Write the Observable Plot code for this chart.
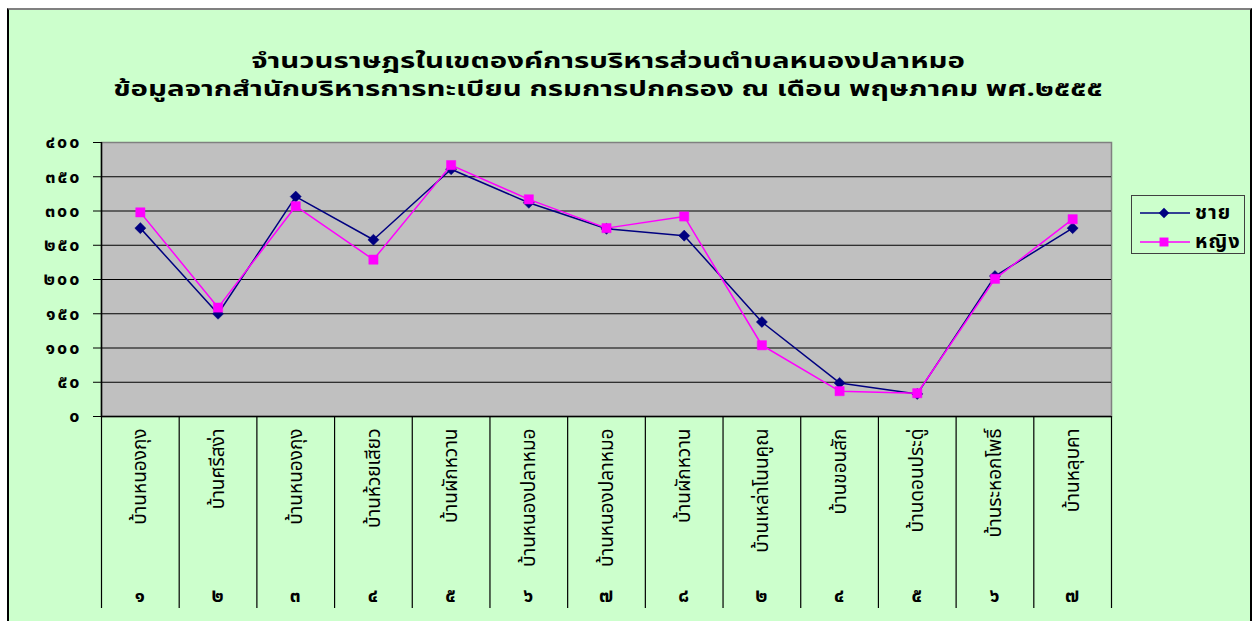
<!DOCTYPE html>
<html><head><meta charset="utf-8">
<script src="https://cdn.jsdelivr.net/npm/d3@7"></script>
<script src="https://cdn.jsdelivr.net/npm/@observablehq/plot@0.6"></script>
<style>
body{margin:0;background:#fff;width:1257px;height:621px;overflow:hidden;position:relative;font-family:Tahoma,"Noto Sans Thai","Noto Sans","DejaVu Sans",sans-serif}
#box{position:absolute;left:7px;top:8px;width:1245px;height:640px;box-sizing:border-box;background:#CCFFCC;border:2px solid #000;border-top-color:#808080}
.tline{position:absolute;left:0;width:1216px;height:28px;text-align:center;font-weight:bold;font-size:21px;line-height:28px;color:#000;transform:scaleX(1.4);transform-origin:608px 0;white-space:nowrap}
#chart{position:absolute;left:0;top:110px}
#legend{position:absolute;left:1131px;top:195px;width:114px;height:59px;box-sizing:border-box;border:1px solid #404040;background:#CCFFCC}
.entry{position:absolute;left:8px;height:22px;display:flex;align-items:center;font-weight:bold;font-size:20px;letter-spacing:1px;color:#000}
.entry svg{margin-right:5px}
g[aria-label="y-axis tick label"] text{letter-spacing:2px}
g.moo text{letter-spacing:1px}
</style></head>
<body>
<div id="box"></div>
<div class="tline" style="top:48px">จำนวนราษฎรในเขตองค์การบริหารส่วนตำบลหนองปลาหมอ</div>
<div class="tline" style="top:76px">ข้อมูลจากสำนักบริหารการทะเบียน กรมการปกครอง ณ เดือน พฤษภาคม พศ.๒๕๕๕</div>
<div id="chart"></div>
<div id="legend"></div>
<script>
const villages = ["บ้านหนองกุง","บ้านศรีสง่า","บ้านหนองกุง","บ้านห้วยเสียว","บ้านผักหวาน","บ้านหนองปลาหมอ","บ้านหนองปลาหมอ","บ้านผักหวาน","บ้านเหล่าโนนคูณ","บ้านขอนสัก","บ้านดอนประดู่","บ้านระหอกโพธิ์","บ้านหลุบคา"];
const moo = ["๑","๒","๓","๔","๕","๖","๗","๘","๒","๔","๕","๖","๗"];
const male = [275,150,321,258,361,312,274,264,138,49,33,205,275];
const female = [298,159,307,229,367,317,275,292,104,37,34,201,288];
const yTicks = [0,50,100,150,200,250,300,350,400];
const yTickLabels = ["๐","๕๐","๑๐๐","๑๕๐","๒๐๐","๒๕๐","๓๐๐","๓๕๐","๔๐๐"];
const seriesNames = ["ชาย","หญิง"];
const colors = ["#000080","#FF00FF"];

const rows = villages.map((v,i)=>({pos:i+0.5, name:v, male:male[i], female:female[i]}));
const centers = rows.map(d=>d.pos);
const bounds = d3.range(0, villages.length+1);
const font = 'Tahoma,"Noto Sans Thai","Noto Sans","DejaVu Sans",sans-serif';

const chart = Plot.plot({
  width:1257, height:511,
  marginLeft:101, marginRight:146, marginTop:32, marginBottom:205,
  style:{background:"transparent", fontFamily:font, color:"#000", overflow:"visible"},
  x:{domain:[0,villages.length]},
  y:{domain:[0,400]},
  marks:[
    Plot.frame({fill:"#C0C0C0", stroke:"#808080", strokeWidth:1.5}),
    Plot.ruleY(yTicks.filter(d=>d>0&&d<400), {stroke:"#000", strokeWidth:1.2}),
    Plot.ruleX([0], {stroke:"#000", strokeWidth:1.5}),
    Plot.ruleY([0], {stroke:"#000", strokeWidth:1.5}),
    Plot.axisY({ticks:yTicks, tickSize:8, tickPadding:12, stroke:"#000", tickFormat:d=>yTickLabels[yTicks.indexOf(d)], fontSize:18, fontWeight:"bold", label:null}),
    Plot.axisX({ticks:bounds, tickSize:192, tickFormat:()=>"", stroke:"#000", strokeWidth:1.2, label:null}),
    Plot.axisX({ticks:centers, tickSize:0, tickPadding:12, tickRotate:-90, textAnchor:"end", tickFormat:d=>villages[Math.floor(d)], fontSize:19, label:null}),
    Plot.axisX({ticks:centers, tickSize:0, tickPadding:172, tickFormat:d=>moo[Math.floor(d)], fontSize:19, fontWeight:"bold", label:null, className:"moo"}),
    Plot.line(rows, {x:"pos", y:"male", stroke:colors[0], strokeWidth:1.5}),
    Plot.dot(rows, {x:"pos", y:"male", symbol:"diamond2", r:5, fill:colors[0], stroke:colors[0], strokeWidth:0.5}),
    Plot.line(rows, {x:"pos", y:"female", stroke:colors[1], strokeWidth:1.5}),
    Plot.dot(rows, {x:"pos", y:"female", symbol:"square", r:5.2, fill:colors[1], stroke:colors[1], strokeWidth:0.5})
  ]
});
document.getElementById("chart").appendChild(chart);

const legend = document.getElementById("legend");
seriesNames.forEach((n,k)=>{
  const e = document.createElement("div");
  e.className = "entry";
  e.style.top = (6 + k*29) + "px";
  const sym = d3.symbol(k===0 ? d3.symbolDiamond2 : d3.symbolSquare, k===0 ? 70 : 80)();
  e.innerHTML = `<svg width="50" height="14"><line x1="0" x2="50" y1="7" y2="7" stroke="${colors[k]}" stroke-width="1.5"/><path transform="translate(24,7)" d="${sym}" fill="${colors[k]}"/></svg><span>${n}</span>`;
  legend.appendChild(e);
});
</script>
</body></html>
